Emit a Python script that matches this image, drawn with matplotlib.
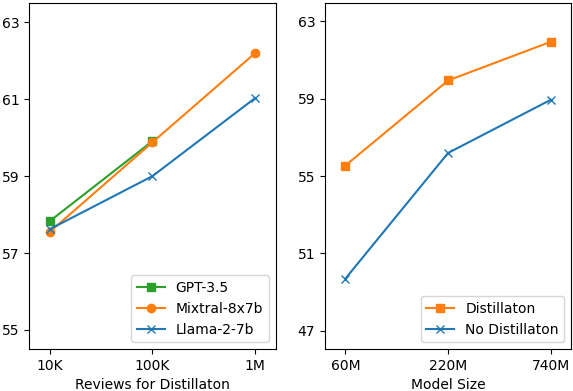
import matplotlib
matplotlib.use("Agg")
from matplotlib import pyplot as plt

# left panel: reviews used for distillation
reviews = ['10K', '100K', '1M']
gpt35 = [57.83, 59.91]
mixtral = [57.55, 59.88, 62.2]
llama = [57.62, 59.0, 61.03]

# right panel: model size
sizes = ['60M', '220M', '740M']
distill = [55.55, 59.95, 61.95]
no_distill = [49.7, 56.2, 58.95]

fig, (ax1, ax2) = plt.subplots(1, 2, figsize=(5.73, 3.91), dpi=100)

x = list(range(len(reviews)))
ax1.plot(x[:len(gpt35)], gpt35, marker='s', color='tab:green', label='GPT-3.5')
ax1.plot(x, mixtral, marker='o', color='tab:orange', label='Mixtral-8x7b')
ax1.plot(x, llama, marker='x', color='tab:blue', label='Llama-2-7b')
ax1.set_xticks(x)
ax1.set_xticklabels(reviews)
ax1.set_xlim(-0.2, 2.2)
ax1.set_yticks([55, 57, 59, 61, 63])
ax1.set_ylim(54.5, 63.5)
ax1.set_xlabel('Reviews for Distillaton')
ax1.legend(loc='lower right')

x2 = list(range(len(sizes)))
ax2.plot(x2, distill, marker='s', color='tab:orange', label='Distillaton')
ax2.plot(x2, no_distill, marker='x', color='tab:blue', label='No Distillaton')
ax2.set_xticks(x2)
ax2.set_xticklabels(sizes)
ax2.set_xlim(-0.2, 2.2)
ax2.set_yticks([47, 51, 55, 59, 63])
ax2.set_ylim(46.05, 63.95)
ax2.set_xlabel('Model Size')
ax2.legend(loc='lower right')

plt.subplots_adjust(left=0.051, right=0.997, top=0.992, bottom=0.107, wspace=0.2)
plt.savefig('out.png')
